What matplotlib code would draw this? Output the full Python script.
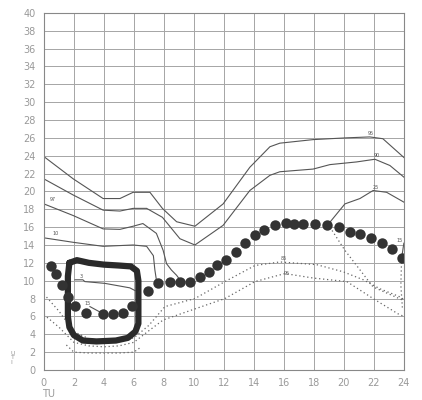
import numpy as np
import matplotlib
matplotlib.use("Agg")
import matplotlib.pyplot as plt

# measured points (big dots)
dot_x = [0.45, 0.8, 1.18, 1.6, 2.07, 2.8, 3.93, 4.58, 5.25, 5.9, 6.95, 7.6, 8.4, 9.1, 9.73,
         10.4, 11.0, 11.55, 12.13, 12.8, 13.4, 14.07, 14.67, 15.4, 16.13, 16.7, 17.3, 18.1,
         18.9, 19.67, 20.4, 21.1, 21.8, 22.55, 23.2, 23.85]
dot_y = [11.6, 10.7, 9.5, 8.2, 7.2, 6.4, 6.3, 6.3, 6.4, 7.2, 8.9, 9.7, 9.9, 9.9, 9.9,
         10.4, 11.0, 11.8, 12.3, 13.2, 14.2, 15.1, 15.7, 16.2, 16.5, 16.4, 16.3, 16.3,
         16.2, 16.0, 15.5, 15.2, 14.8, 14.2, 13.5, 12.5]

# solid reference curves
a_x = [0, 1.96, 3.95, 5.07, 5.95, 7.07, 7.9, 8.85, 10.07, 11.95, 13.73, 15.07, 15.73, 17.95, 20.2, 21.73, 22.6, 24]
a_y = [23.9, 21.4, 19.2, 19.2, 19.9, 19.9, 18.1, 16.6, 16.1, 18.6, 22.7, 25.0, 25.4, 25.8, 26.0, 26.1, 25.9, 23.8]
b_x = [0, 1.95, 3.95, 5.07, 5.95, 6.85, 7.9, 9.07, 10.07, 11.95, 13.73, 15.07, 15.73, 17.95, 19.07, 20.85, 22.07, 23.07, 24]
b_y = [21.4, 19.6, 17.9, 17.8, 18.1, 18.1, 17.1, 14.7, 14.0, 16.2, 20.1, 21.8, 22.2, 22.5, 23.0, 23.3, 23.6, 22.9, 21.6]
c_x = [0, 1.95, 3.95, 5.07, 5.95, 6.6, 7.5, 7.95, 8.18, 8.5, 8.85, 9.07]
c_y = [18.6, 17.3, 15.8, 15.75, 16.1, 16.4, 15.3, 13.4, 11.9, 11.2, 10.6, 10.1]
d_x = [0, 1.95, 3.95, 5.95, 6.85, 7.3, 7.4, 7.5]
d_y = [14.8, 14.3, 13.85, 14.0, 13.85, 12.8, 11.2, 10.1]
e_x = [18.9, 20.07, 21.07, 21.95, 22.85, 24]
e_y = [16.2, 18.6, 19.2, 20.1, 19.9, 18.8]
f_x = [2.07, 2.6, 2.73, 4.07, 5.73, 6.07]
f_y = [10.1, 10.1, 9.9, 9.7, 9.2, 8.9]
g_x = [3.07, 3.62, 3.93]
g_y = [7.1, 6.6, 6.3]
h_x = [23.85, 24.0]
h_y = [12.5, 14.2]

# dotted curves
p_x = [0, 1, 2, 3, 4, 5, 6, 7, 8.07, 10.07, 12.07, 14.07, 15.73, 18.18, 19.95, 21.3, 22.4, 23.73, 24]
p_y = [8.5, 6.6, 4.3, 3.5, 3.3, 3.3, 3.6, 5.0, 7.1, 8.0, 9.9, 11.7, 12.1, 11.8, 11.0, 10.1, 9.1, 8.2, 7.9]
q_x = [0, 1, 2, 3, 4, 5, 6, 7, 7.95, 10, 12.07, 14.07, 16.07, 17.95, 20.2, 21.95, 23.6, 24]
q_y = [6.2, 4.8, 3.1, 2.7, 2.6, 2.7, 3.1, 4.4, 5.6, 6.8, 8.0, 9.9, 10.8, 10.3, 9.9, 8.0, 6.3, 6.0]
r_x = [1.5, 2, 3, 4, 5, 6, 6.5]
r_y = [2.8, 2.0, 1.9, 1.9, 1.9, 2.0, 2.6]
s_x = [19.07, 20.07, 21.95, 23.95]
s_y = [16.0, 13.4, 9.3, 7.8]
t_x = [23.85, 23.8, 23.9]
t_y = [12.5, 9.5, 7.0]

# hand drawn box
box_x = [1.7, 2.2, 3.0, 4.0, 5.0, 5.8, 6.2, 6.3, 6.3, 6.1, 5.6, 4.8, 3.5, 2.6, 2.0, 1.7, 1.6, 1.6, 1.7]
box_y = [12.0, 12.3, 12.0, 11.8, 11.7, 11.6, 11.1, 10.0, 5.2, 4.3, 3.6, 3.3, 3.2, 3.3, 3.9, 4.8, 6.0, 10.5, 12.0]

fig = plt.figure(figsize=(4.22, 4.0), dpi=100)
ax = fig.add_axes([0.104, 0.075, 0.853, 0.893])

line_col = "#555555"
for xs, ys in [(a_x, a_y), (b_x, b_y), (c_x, c_y), (d_x, d_y), (e_x, e_y), (f_x, f_y), (g_x, g_y), (h_x, h_y)]:
    ax.plot(xs, ys, color=line_col, lw=0.8)
for xs, ys in [(p_x, p_y), (q_x, q_y), (r_x, r_y), (s_x, s_y), (t_x, t_y)]:
    ax.plot(xs, ys, color="#666666", lw=0.9, ls=(0, (1, 2.2)))

ax.plot(box_x, box_y, color="#2a2a2a", lw=4.5, solid_capstyle="round", solid_joinstyle="round")
ax.plot(dot_x, dot_y, "o", color="#333333", ms=7.5, mec="none")

# little curve labels
lab = dict(fontsize=3.5, color="#555555")
ax.text(21.6, 26.3, "95", **lab)
ax.text(22.0, 23.8, "90", **lab)
ax.text(21.9, 20.3, "25", **lab)
ax.text(23.5, 14.3, "15", **lab)
ax.text(0.4, 18.9, "97", **lab)
ax.text(0.6, 15.1, "10", **lab)
ax.text(2.4, 10.3, "3", **lab)
ax.text(2.7, 7.3, "15", **lab)
ax.text(15.8, 12.3, "85", **lab)
ax.text(16.0, 10.6, "95", **lab)

ax.set_xlim(0, 24)
ax.set_ylim(0, 40)
ax.set_xticks(np.arange(0, 25, 2))
ax.set_yticks(np.arange(0, 41, 2))
ax.grid(True, color="#a5a5a5", lw=0.7)
ax.set_axisbelow(True)
ax.tick_params(length=0, labelsize=7, labelcolor="#999999", pad=6)
for sp in ax.spines.values():
    sp.set_color("#888888")
    sp.set_linewidth(0.8)

fig.text(0.1, 0.008, "TU", fontsize=7, color="#999999")
fig.text(0.025, 0.09, "U\nT\nI", fontsize=4.5, color="#999999", linespacing=0.9)

plt.savefig("out.png", dpi=100)
